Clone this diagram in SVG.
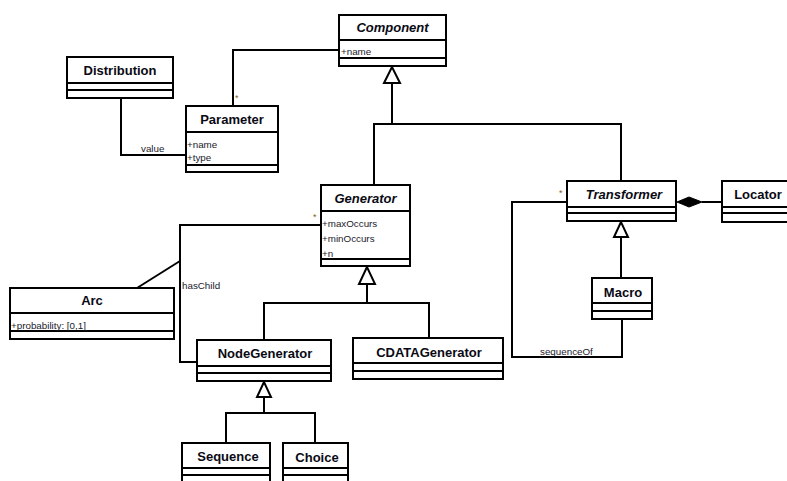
<svg xmlns="http://www.w3.org/2000/svg" width="787" height="481" viewBox="0 0 787 481">
<defs>
<style>
.box{fill:#fff;stroke:#000;stroke-width:2}
.sep{stroke:#000;stroke-width:2}
.t{font-family:"Liberation Sans",Arial,sans-serif;font-weight:bold;font-size:13px;fill:#0a0a14;text-anchor:middle}
.i{font-style:italic}
.a{font-family:"Liberation Sans",Arial,sans-serif;font-size:9.8px;fill:#1a1a2a}
.c{fill:none;stroke:#000;stroke-width:2}
.tri{fill:#fff;stroke:#000;stroke-width:2}
.m{font-family:"Liberation Sans",Arial,sans-serif;font-size:9px;fill:#8a5a20}
.l{font-family:"Liberation Sans",Arial,sans-serif;font-size:9.8px;fill:#1a1a2a}
</style>
</defs>
<rect width="787" height="481" fill="#fff"/>
<g id="connectors">
<polyline class="c" points="233,106 233,50 339,50"/>
<polyline class="c" points="121,98 121,155 186,155"/>
<polyline class="c" points="392,82 392,124 374,124 374,185"/>
<polyline class="c" points="392,124 621,124 621,181"/>
<polygon class="tri" points="392,67 384,83 400,83"/>
<polyline class="c" points="367,283 367,303 264,303 264,340"/>
<polyline class="c" points="367,303 429,303 429,338"/>
<polygon class="tri" points="367,267 359,284 375,284"/>
<polyline class="c" points="321,225 180,225 180,362 197,362"/>
<line class="c" x1="180" y1="261" x2="137" y2="288"/>
<polyline class="c" points="264,396 264,413 226,413 226,443"/>
<polyline class="c" points="264,413 315,413 315,443"/>
<polygon class="tri" points="264,382 257,397 271,397"/>
<polyline class="c" points="567,202 512,202 512,357 622,357 622,319"/>
<polyline class="c" points="621,237 621,278"/>
<polygon class="tri" points="621,222 614,237 628,237"/>
<line class="c" x1="702" y1="202" x2="722" y2="202"/>
<polygon points="677,202 689,197 702,202 689,207" fill="#000" stroke="#000" stroke-width="1"/>
<text class="m" x="235" y="101">*</text>
<text class="l" x="141" y="152">value</text>
<text class="m" x="313" y="220">*</text>
<text class="l" x="182" y="289">hasChild</text>
<text class="m" x="559" y="196">*</text>
<text class="l" x="540" y="355">sequenceOf</text>
</g>
<g id="Component">
<rect class="box" x="339" y="15" width="107" height="51"/>
<line class="sep" x1="339" y1="40" x2="446" y2="40"/>
<line class="sep" x1="339" y1="58" x2="446" y2="58"/>
<text class="t i" x="392.5" y="32">Component</text>
<text class="a" x="341" y="55">+name</text>
</g>
<g id="Distribution">
<rect class="box" x="67" y="57" width="106" height="41"/>
<line class="sep" x1="67" y1="83" x2="173" y2="83"/>
<line class="sep" x1="67" y1="90" x2="173" y2="90"/>
<text class="t" x="120" y="75">Distribution</text>
</g>
<g id="Parameter">
<rect class="box" x="186" y="106" width="92" height="66"/>
<line class="sep" x1="186" y1="132" x2="278" y2="132"/>
<line class="sep" x1="186" y1="165" x2="278" y2="165"/>
<text class="t" x="232" y="124">Parameter</text>
<text class="a" x="187" y="148">+name</text>
<text class="a" x="187" y="161">+type</text>
</g>
<g id="Generator">
<rect class="box" x="321" y="185" width="89" height="81"/>
<line class="sep" x1="321" y1="211" x2="410" y2="211"/>
<line class="sep" x1="321" y1="259" x2="410" y2="259"/>
<text class="t i" x="365.5" y="203">Generator</text>
<text class="a" x="322" y="227">+maxOccurs</text>
<text class="a" x="322" y="242">+minOccurs</text>
<text class="a" x="322" y="257">+n</text>
</g>
<g id="Arc">
<rect class="box" x="10" y="288" width="164" height="51"/>
<line class="sep" x1="10" y1="313" x2="174" y2="313"/>
<line class="sep" x1="10" y1="331" x2="174" y2="331"/>
<text class="t" x="92" y="305">Arc</text>
<text class="a" x="11" y="329">+probability: [0,1]</text>
</g>
<g id="Transformer">
<rect class="box" x="567" y="181" width="109" height="40"/>
<line class="sep" x1="567" y1="207" x2="676" y2="207"/>
<line class="sep" x1="567" y1="213" x2="676" y2="213"/>
<text class="t i" x="624" y="199">Transformer</text>
</g>
<g id="Locator">
<rect class="box" x="722" y="181" width="70" height="41"/>
<line class="sep" x1="722" y1="207" x2="792" y2="207"/>
<line class="sep" x1="722" y1="213" x2="792" y2="213"/>
<text class="t" x="758" y="199">Locator</text>
</g>
<g id="Macro">
<rect class="box" x="592" y="278" width="60" height="41"/>
<line class="sep" x1="592" y1="303" x2="652" y2="303"/>
<line class="sep" x1="592" y1="311" x2="652" y2="311"/>
<text class="t" x="623" y="297">Macro</text>
</g>
<g id="NodeGenerator">
<rect class="box" x="197" y="340" width="134" height="41"/>
<line class="sep" x1="197" y1="366" x2="331" y2="366"/>
<line class="sep" x1="197" y1="373" x2="331" y2="373"/>
<text class="t" x="265" y="358">NodeGenerator</text>
</g>
<g id="CDATAGenerator">
<rect class="box" x="353" y="338" width="150" height="41"/>
<line class="sep" x1="353" y1="363" x2="503" y2="363"/>
<line class="sep" x1="353" y1="371" x2="503" y2="371"/>
<text class="t" x="429" y="357">CDATAGenerator</text>
</g>
<g id="Sequence">
<rect class="box" x="182" y="443" width="88" height="45"/>
<line class="sep" x1="182" y1="468" x2="270" y2="468"/>
<line class="sep" x1="182" y1="475" x2="270" y2="475"/>
<text class="t" x="228" y="461">Sequence</text>
</g>
<g id="Choice">
<rect class="box" x="283" y="443" width="65" height="45"/>
<line class="sep" x1="283" y1="468" x2="348" y2="468"/>
<line class="sep" x1="283" y1="475" x2="348" y2="475"/>
<text class="t" x="317" y="462">Choice</text>
</g>
</svg>
